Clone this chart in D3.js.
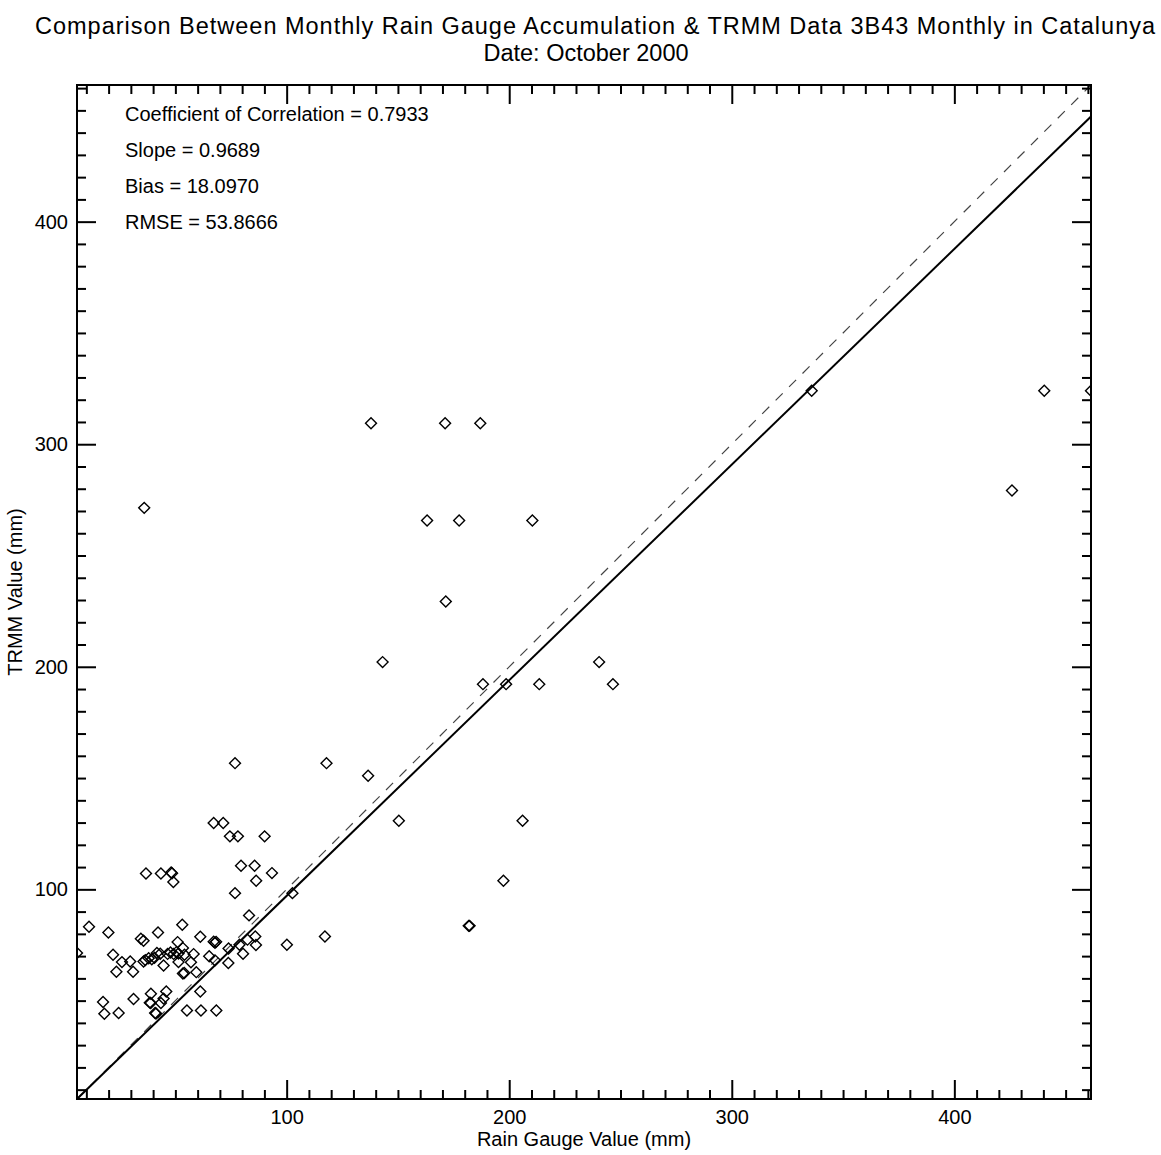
<!DOCTYPE html>
<html>
<head>
<meta charset="utf-8">
<script src="https://cdn.jsdelivr.net/npm/d3@7"></script>
<style>
  html, body { margin: 0; padding: 0; background: #fff; }
  svg { display: block; }
  text { font-family: "Liberation Sans", Arial, Helvetica, sans-serif; fill: #000; }
</style>
</head>
<body>
<svg id="chart" width="1161" height="1155"></svg>
<script>
// Monthly accumulation per station: rain gauge (mm) vs TRMM 3B43 (mm)
const gaugeValues = [
  137.9, 171.2, 187.0, 163.1, 177.5, 210.4, 36.0, 171.5, 143.1, 240.4,
  188.2, 198.6, 213.5, 246.6, 335.9, 440.4, 461.4, 425.9, 76.8, 117.9,
  136.6, 150.4, 206.0, 67.2, 71.5, 74.5, 78.1, 90.1, 197.4, 181.8,
  182.2, 79.5, 85.6, 93.4, 86.3, 76.8, 102.6, 83.1, 36.8, 43.5,
  48.1, 48.5, 49.1, 11.2, 19.9, 53.1, 42.2, 34.5, 35.7, 61.2,
  51.0, 53.4, 5.8, 22.0, 26.0, 29.7, 23.5, 31.0, 35.7, 36.5,
  38.0, 39.4, 40.6, 41.7, 43.2, 44.7, 46.5, 47.8, 49.2, 50.5,
  51.4, 51.4, 54.1, 58.2, 57.0, 53.4, 54.0, 59.4, 67.2, 67.8,
  68.3, 73.9, 78.8, 82.4, 85.9, 86.2, 100.1, 117.2, 80.4, 65.2,
  67.8, 73.8, 61.2, 61.5, 68.4, 55.2, 17.5, 18.1, 24.5, 31.2,
  39.0, 38.5, 38.9, 40.9, 41.3, 43.5, 44.7, 45.9
];
const trmmValues = [
  309.4, 309.4, 309.4, 265.7, 265.7, 265.7, 271.4, 229.3, 202.1, 202.1,
  192.2, 192.2, 192.2, 192.2, 324.0, 324.0, 324.0, 279.2, 156.7, 156.7,
  151.0, 130.8, 130.8, 129.8, 129.8, 123.8, 123.8, 123.8, 103.9, 83.6,
  83.6, 110.6, 110.6, 107.3, 103.9, 98.3, 98.3, 88.3, 107.1, 107.1,
  107.6, 107.2, 103.3, 83.2, 80.6, 84.1, 80.6, 77.8, 76.9, 78.7,
  76.3, 73.6, 71.4, 70.6, 67.3, 67.6, 63.0, 63.0, 67.6, 68.2,
  69.0, 68.6, 69.3, 71.4, 71.1, 65.8, 71.0, 71.6, 71.0, 71.8,
  71.2, 67.3, 70.6, 70.9, 67.2, 62.2, 62.4, 62.8, 76.5, 76.0,
  76.4, 73.4, 75.1, 77.4, 78.8, 75.0, 75.1, 78.8, 71.1, 69.9,
  68.1, 66.9, 54.1, 45.6, 45.6, 45.6, 49.4, 44.1, 44.4, 50.7,
  53.1, 49.1, 48.9, 44.4, 44.2, 48.9, 50.9, 54.1
];

// Fit statistics
const fitSlope = 0.9689;
const fitIntercept = 0.18;
const statLabels = [
  "Coefficient of Correlation = 0.7933",
  "Slope = 0.9689",
  "Bias = 18.0970",
  "RMSE = 53.8666"
];

const titleLines = [
  "Comparison Between Monthly Rain Gauge Accumulation & TRMM Data 3B43 Monthly in Catalunya",
  "Date: October 2000"
];
const xTitle = "Rain Gauge Value (mm)";
const yTitle = "TRMM Value (mm)";
const majorTicks = [100, 200, 300, 400];
const minorTicks = d3.range(10, 470, 10).filter(v => v % 100 !== 0);

// Layout
const W = 1161, H = 1155;
const plot = { left: 77, top: 85, right: 1091, bottom: 1099 };
const FS = 20;
const TITLE_FS = 23.5;

const svg = d3.select("#chart");

// Both axes share the same range so the 1:1 line runs corner to corner
const extent = d3.extent(gaugeValues.concat(trmmValues));
const x = d3.scaleLinear().domain(extent).range([plot.left, plot.right]);
const y = d3.scaleLinear().domain(extent).range([plot.bottom, plot.top]);

// Titles
svg.append("text")
  .attr("x", 595).attr("y", 34)
  .attr("text-anchor", "middle")
  .attr("textLength", 1120)
  .attr("lengthAdjust", "spacing")
  .style("font-size", TITLE_FS + "px")
  .text(titleLines[0]);
svg.append("text")
  .attr("x", 586).attr("y", 61)
  .attr("text-anchor", "middle")
  .style("font-size", TITLE_FS + "px")
  .text(titleLines[1]);

// Clip region for the data marks
svg.append("defs").append("clipPath").attr("id", "plotClip")
  .append("rect")
  .attr("x", plot.left).attr("y", plot.top)
  .attr("width", plot.right - plot.left)
  .attr("height", plot.bottom - plot.top);

const marks = svg.append("g").attr("clip-path", "url(#plotClip)");

// 1:1 reference line
marks.append("line")
  .attr("x1", x(extent[0])).attr("y1", y(extent[0]))
  .attr("x2", x(extent[1])).attr("y2", y(extent[1]))
  .attr("stroke", "#444").attr("stroke-width", 1.2)
  .attr("stroke-dasharray", "10,9");

// Regression line
marks.append("line")
  .attr("x1", x(extent[0])).attr("y1", y(fitSlope * extent[0] + fitIntercept))
  .attr("x2", x(extent[1])).attr("y2", y(fitSlope * extent[1] + fitIntercept))
  .attr("stroke", "#000").attr("stroke-width", 2);

// Station diamonds
const diamond = d3.symbol().type(d3.symbolSquare).size(60);
marks.selectAll("path.pt")
  .data(gaugeValues.map((g, i) => [g, trmmValues[i]]))
  .join("path")
  .attr("class", "pt")
  .attr("d", diamond)
  .attr("transform", d => `translate(${x(d[0])},${y(d[1])}) rotate(45)`)
  .attr("fill", "none")
  .attr("stroke", "#000")
  .attr("stroke-width", 1.4);

// Axes: ticks point inward on all four sides
function styleAxis(g) {
  g.select(".domain").remove();
  g.selectAll(".tick line").attr("stroke", "#000").attr("stroke-width", 2);
  g.selectAll(".tick text").style("font-size", FS + "px").attr("fill", "#000");
}
const MAJ = 19, MIN = 9;

function addAxis(axisFn, scale, transform, showLabels, padding) {
  const major = axisFn(scale).tickValues(majorTicks).tickSize(-MAJ).tickPadding(padding);
  if (!showLabels) major.tickFormat("");
  svg.append("g").attr("transform", transform).call(major).call(styleAxis);
  const minor = axisFn(scale).tickValues(minorTicks).tickSize(-MIN).tickFormat("");
  svg.append("g").attr("transform", transform).call(minor).call(styleAxis);
}
addAxis(d3.axisBottom, x, `translate(0,${plot.bottom})`, true, 11);
addAxis(d3.axisTop, x, `translate(0,${plot.top})`, false, 0);
addAxis(d3.axisLeft, y, `translate(${plot.left},0)`, true, 9);
addAxis(d3.axisRight, y, `translate(${plot.right},0)`, false, 0);

// Plot frame
svg.append("rect")
  .attr("x", plot.left).attr("y", plot.top)
  .attr("width", plot.right - plot.left)
  .attr("height", plot.bottom - plot.top)
  .attr("fill", "none").attr("stroke", "#000").attr("stroke-width", 2);

// Axis titles
svg.append("text")
  .attr("x", (plot.left + plot.right) / 2).attr("y", 1146)
  .attr("text-anchor", "middle")
  .style("font-size", FS + "px")
  .text(xTitle);
svg.append("text")
  .attr("transform", `translate(22,${(plot.top + plot.bottom) / 2}) rotate(-90)`)
  .attr("text-anchor", "middle")
  .style("font-size", FS + "px")
  .text(yTitle);

// Statistics block
svg.append("g").selectAll("text")
  .data(statLabels)
  .join("text")
  .attr("x", 125)
  .attr("y", (d, i) => 121 + i * 36)
  .style("font-size", FS + "px")
  .text(d => d);
</script>
</body>
</html>
